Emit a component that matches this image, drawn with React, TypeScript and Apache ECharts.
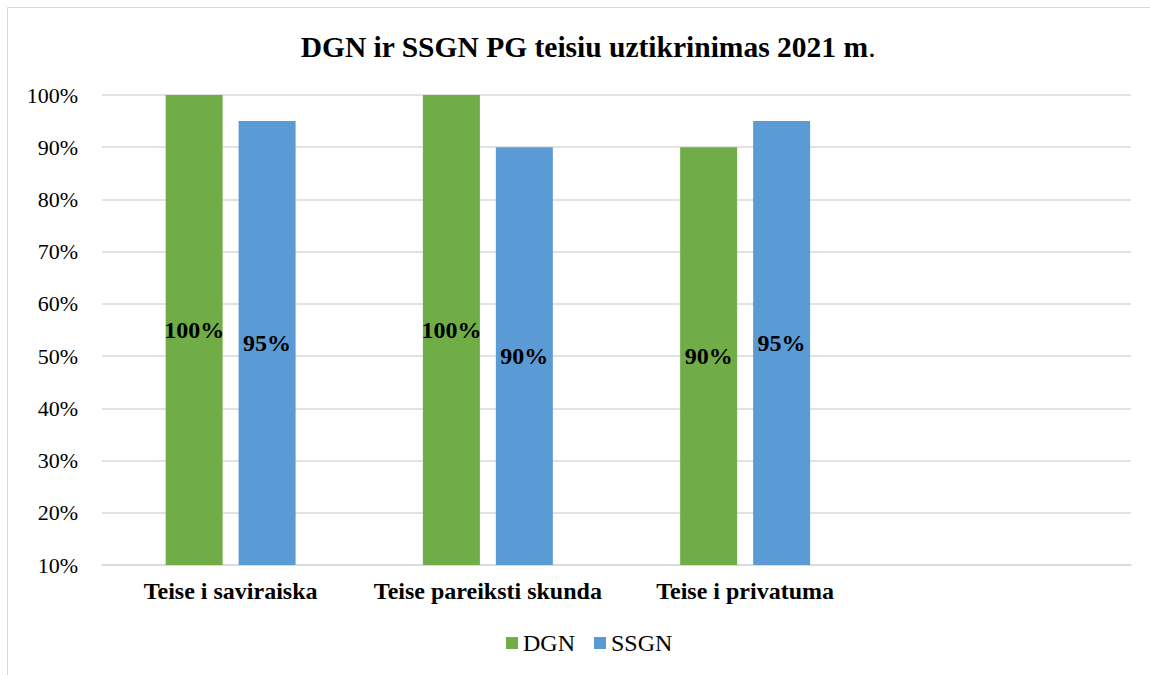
import React, { useEffect, useRef } from "react";
import * as echarts from "echarts";

const categories = ["Teise i saviraiska", "Teise pareiksti skunda", "Teise i privatuma", ""];
const dgnValues = [1.0, 1.0, 0.9, null];
const ssgnValues = [0.95, 0.9, 0.95, null];
const seriesNames = ["DGN", "SSGN"];
const yMin = 0.1;
const yMax = 1.0;
const yInterval = 0.1;

const FONT = "'Liberation Serif', 'Times New Roman', serif";

export default function App() {
  const ref = useRef<HTMLDivElement>(null);
  useEffect(() => {
    if (!ref.current) return;
    const chart = echarts.init(ref.current, undefined, { renderer: "svg" });
    const pct = (v: number) => Math.round(v * 100) + "%";
    const labelOpt = {
      show: true,
      position: "inside" as const,
      formatter: (p: any) => pct(p.value),
      color: "#000",
      fontFamily: FONT,
      fontWeight: "bold" as const,
      fontSize: 24,
    };
    chart.setOption({
      animation: false,
      backgroundColor: "#fff",
      graphic: [
        {
          type: "rect",
          shape: { x: 7.5, y: 7.5, width: 1200, height: 700 },
          style: { fill: "none", stroke: "#D9D9D9", lineWidth: 1 },
          silent: true,
        },
      ],
      title: {
        text: "{b|DGN ir SSGN PG teisiu uztikrinimas 2021 m}{n|.}",
        left: 583,
        textAlign: "center",
        top: 27,
        textStyle: {
          rich: {
            b: { fontFamily: FONT, fontWeight: "bold", fontSize: 29.5, color: "#000" },
            n: { fontFamily: FONT, fontWeight: "normal", fontSize: 29.5, color: "#000" },
          },
        },
      },
      legend: {
        data: seriesNames,
        left: 501,
        top: 626,
        icon: "rect",
        itemWidth: 12,
        itemHeight: 12,
        itemGap: 19,
        textStyle: { fontFamily: FONT, fontSize: 24, color: "#000" },
      },
      grid: { left: 102, right: 19, top: 95, bottom: 110, containLabel: false },
      xAxis: {
        type: "category",
        data: categories,
        axisLine: { show: true, lineStyle: { color: "#D9D9D9", width: 1.5 } },
        axisTick: { show: false },
        axisLabel: {
          margin: 14,
          fontFamily: FONT,
          fontWeight: "bold",
          fontSize: 24,
          color: "#000",
          interval: 0,
        },
      },
      yAxis: {
        type: "value",
        min: yMin,
        max: yMax,
        interval: yInterval,
        axisLine: { show: false },
        axisTick: { show: false },
        splitLine: { lineStyle: { color: "#D9D9D9", width: 1.5 } },
        axisLabel: {
          margin: 24,
          fontFamily: FONT,
          fontSize: 22,
          color: "#000",
          formatter: (v: number) => pct(v),
        },
      },
      series: [
        {
          name: seriesNames[0],
          type: "bar",
          data: dgnValues,
          barWidth: 57,
          barGap: "28%",
          itemStyle: { color: "#70AD47" },
          label: labelOpt,
        },
        {
          name: seriesNames[1],
          type: "bar",
          data: ssgnValues,
          barWidth: 57,
          barGap: "28%",
          itemStyle: { color: "#5B9BD5" },
          label: labelOpt,
        },
      ],
    });
    return () => chart.dispose();
  }, []);
  return (
    <div
      ref={ref}
      style={{ position: "fixed", left: 0, top: 0, width: 1150, height: 675 }}
    />
  );
}
